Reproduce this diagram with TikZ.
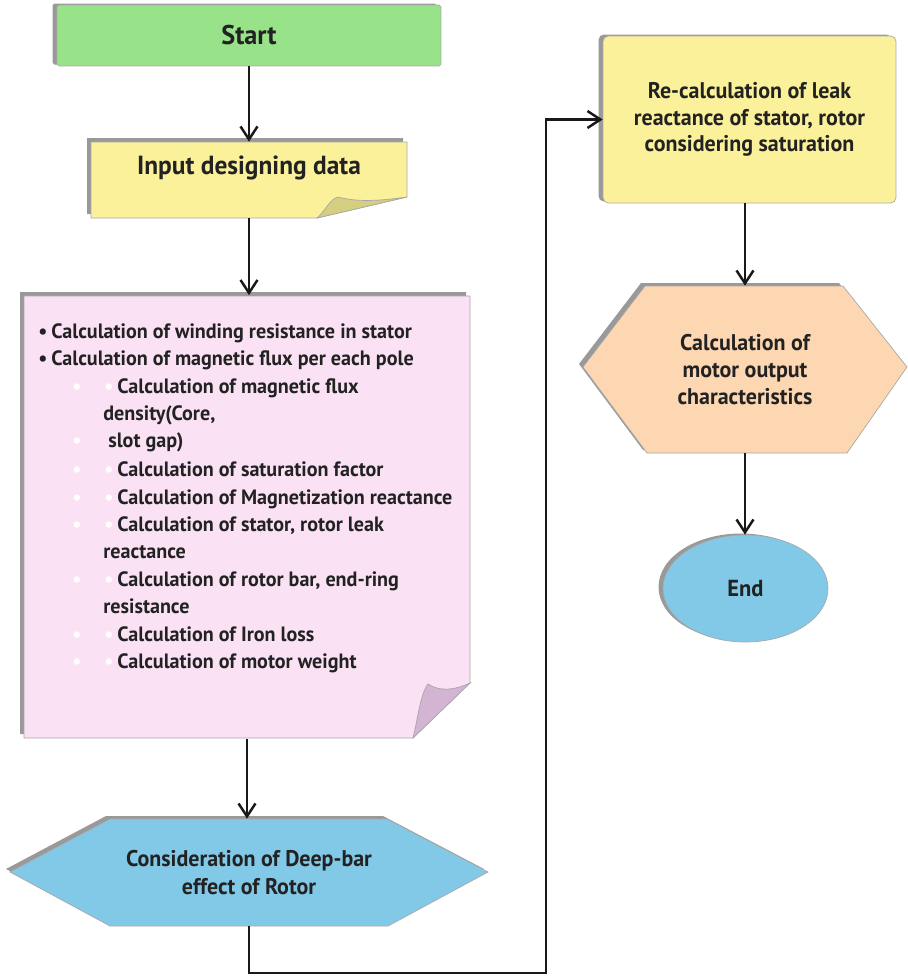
\documentclass[tikz,border=0pt]{standalone}
\usepackage{fontspec}
\setmainfont{PT Sans}[FakeStretch=0.97]
\usetikzlibrary{arrows.meta,shadows,shapes.geometric}

\definecolor{startgreen}{HTML}{98E38A}
\definecolor{notepaper}{HTML}{FCF19B}
\definecolor{notefold}{HTML}{D6CE80}
\definecolor{listpink}{HTML}{FAE2F4}
\definecolor{listfold}{HTML}{D3B4D2}
\definecolor{skyblue}{HTML}{82C9E8}
\definecolor{peach}{HTML}{FDD6B2}
\definecolor{shadowgray}{HTML}{999999}
\definecolor{rimgray}{HTML}{A8A8A8}
\definecolor{inkgray}{HTML}{222222}

\begin{document}
\begin{tikzpicture}[x=0.02cm, y=-0.02cm]
  \tikzstyle{every node}=[font=\fontsize{11.8}{15.4}\selectfont\bfseries, text=inkgray]
  \tikzstyle{rim}=[draw=rimgray, line width=0.4pt]
  \tikzstyle{dropgray}=[general shadow={fill=shadowgray, shadow xshift=-0.09cm, shadow yshift=0.03cm}]
  \tikzstyle{flow}=[draw=black!90, line width=1.4pt, -{Straight Barb[length=0.26cm,width=0.34cm]}]
  \tikzstyle{item}=[anchor=base west, inner sep=0pt]
  \tikzstyle{boxtext}=[align=center, font=\fontsize{12.9}{15.2}\selectfont\bfseries]
  \useasboundingbox (0,0) rectangle (908,978);

  % start
  \node (start) [rim, dropgray, fill=startgreen, rounded corners=1pt,
    minimum width=7.68cm, minimum height=1.22cm,
    font=\fontsize{15.4}{18}\selectfont\bfseries] at (249,35.5) {Start};

  % input data note
  \fill[shadowgray, shift={(-4,-4)}] (91,142) -- (407,142) -- (407,197) -- (317,218) -- (91,218) -- cycle;
  \draw[rim, fill=notepaper] (91,142) -- (407,142) -- (407,197) -- (317,218) -- (91,218) -- cycle;
  \draw[rim, fill=notefold] (317,218) .. controls (326,210) and (330,199) .. (338,197)
    .. controls (360,203) and (385,200) .. (407,197) -- cycle;
  \node (input) [minimum width=6.32cm, minimum height=1.52cm] at (249,180) {};
  \node (input text) [font=\fontsize{14.9}{18}\selectfont\bfseries] at (249,168) {Input designing data};

  % calculation list note
  \fill[shadowgray, shift={(-4,-4)}] (24,296) -- (470,296) -- (470,683) -- (413,738) -- (24,738) -- cycle;
  \draw[rim, fill=listpink] (24,296) -- (470,296) -- (470,683) -- (413,738) -- (24,738) -- cycle;
  \draw[rim, fill=listfold] (413,738) .. controls (418,718) and (420,695) .. (428,684)
    .. controls (440,692) and (455,690) .. (470,683) -- cycle;
  \node (notes) [minimum width=8.92cm, minimum height=8.86cm] at (247,517) {};

  \node (l1) [item] at (38,338) {\makebox[0.26cm][l]{\textbullet}Calculation of winding resistance in stator};
  \node (l2) [item] at (38,365) {\makebox[0.26cm][l]{\textbullet}Calculation of magnetic flux per each pole};
  \node (l3) [item] at (72,393) {\makebox[0.64cm][l]{\color{white}\textbullet}\makebox[0.26cm][l]{\color{white}\textbullet}Calculation of magnetic flux};
  \node (l4) [item] at (103,420) {density(Core,};
  \node (l5) [item] at (72,447) {\makebox[0.72cm][l]{\color{white}\textbullet}slot gap)};
  \node (l6) [item] at (72,476) {\makebox[0.64cm][l]{\color{white}\textbullet}\makebox[0.26cm][l]{\color{white}\textbullet}Calculation of saturation factor};
  \node (l7) [item] at (72,504) {\makebox[0.64cm][l]{\color{white}\textbullet}\makebox[0.26cm][l]{\color{white}\textbullet}Calculation of Magnetization reactance};
  \node (l8) [item] at (72,531) {\makebox[0.64cm][l]{\color{white}\textbullet}\makebox[0.26cm][l]{\color{white}\textbullet}Calculation of stator, rotor leak};
  \node (l9) [item] at (103,558) {reactance};
  \node (l10) [item] at (72,586) {\makebox[0.64cm][l]{\color{white}\textbullet}\makebox[0.26cm][l]{\color{white}\textbullet}Calculation of rotor bar, end-ring};
  \node (l11) [item] at (103,613) {resistance};
  \node (l12) [item] at (72,641) {\makebox[0.64cm][l]{\color{white}\textbullet}\makebox[0.26cm][l]{\color{white}\textbullet}Calculation of Iron loss};
  \node (l13) [item] at (72,668) {\makebox[0.64cm][l]{\color{white}\textbullet}\makebox[0.26cm][l]{\color{white}\textbullet}Calculation of motor weight};

  % deep-bar hexagon
  \fill[shadowgray] (6,869) -- (106,816) -- (383,816) -- (484,869) -- (384,923) -- (106,923) -- cycle;
  \draw[rim, fill=skyblue] (10,872) -- (110,819) -- (387,819) -- (488,872) -- (388,926) -- (110,926) -- cycle;
  \node (deep) [boxtext, minimum width=9.56cm, minimum height=2.14cm,
    font=\fontsize{12.9}{16}\selectfont\bfseries] at (249,872.5)
    {Consideration of Deep-bar\\effect of Rotor};

  % re-calculation box
  \node (recalc) [rim, dropgray, fill=notepaper, rounded corners=3pt, boxtext,
    minimum width=5.86cm, minimum height=3.34cm] at (749.5,119.5)
    {Re-calculation of leak\\reactance of stator, rotor\\considering saturation};

  % output hexagon
  \fill[shadowgray] (579,364) -- (641,283) -- (839,283) -- (903,364) -- (843,450) -- (643,450) -- cycle;
  \draw[rim, fill=peach] (583,367) -- (645,286) -- (843,286) -- (907,367) -- (847,453) -- (647,453) -- cycle;
  \node (output) [boxtext, minimum width=6.48cm, minimum height=3.34cm] at (745,369.5)
    {Calculation of\\motor output\\characteristics};

  % end
  \node (end) [ellipse, rim, dropgray, fill=skyblue, inner sep=0pt,
    minimum width=3.3cm, minimum height=2.14cm,
    font=\fontsize{13.2}{16}\selectfont\bfseries] at (745.5,588.5) {End};

  % connectors
  \coordinate (turn) at (546,973);
  \draw[flow] (start.south) -- (input.north);
  \draw[flow] (input.south) -- (input.south |- notes.north);
  \draw[flow] (notes.south) -- (deep.north -| notes.south);
  \draw[flow] (deep.south) |- (turn) |- (recalc.west);
  \draw[flow] (output.north |- recalc.south) -- (output.north);
  \draw[flow] (output.south) -- (end.north -| output.south);
\end{tikzpicture}
\end{document}
